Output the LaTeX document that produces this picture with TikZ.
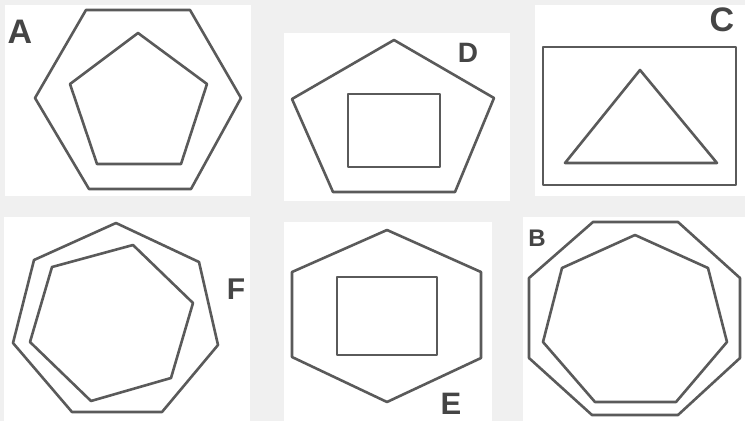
\documentclass[tikz,border=0pt]{standalone}
\usepackage{fontspec}
\setmainfont{Liberation Sans}
\usepackage{xcolor}
\usepackage{tikz}
\definecolor{fgBack}{HTML}{F0F0F0}
\definecolor{fgInk}{HTML}{5A5A5A}
\definecolor{fgText}{HTML}{454545}
\tikzset{
  fg diagram/.style={x=1pt, y=-1pt, line cap=round, line join=round},
  fg panel/.style={fill=white, draw=none},
  fg shape/.style={draw=fgInk, line width=2.6pt},
  fg label/.style={text=fgText, inner sep=0pt,
    font=\fontsize{#1}{#1}\selectfont\bfseries}
}
\begin{document}
\begin{tikzpicture}[fg diagram]
\fill[fgBack] (0,0) rectangle (745,421);
% panels
\fill[fg panel] (5,5) rectangle (251,196);
\fill[fg panel] (284,33) rectangle (510,201);
\fill[fg panel] (535,5) rectangle (745,196);
\fill[fg panel] (4,217) rectangle (250,421);
\fill[fg panel] (284,222) rectangle (492,421);
\fill[fg panel] (523,217) rectangle (745,421);
% A
\draw[fg shape] (86,10) -- (190,10) -- (241,98) -- (191,189) -- (89,189) -- (35,98) -- cycle;
\draw[fg shape] (138,33) -- (207,84) -- (181,164) -- (97,164) -- (70,84) -- cycle;
\node[fg label=34] (labA) at (20,32) {A};
% D
\draw[fg shape] (394,40) -- (494,98) -- (455,192) -- (333,192) -- (292,99) -- cycle;
\draw[fg shape] (348,94) rectangle (440,167);
\node[fg label=28] (labD) at (468,53) {D};
% C
\draw[fg shape] (543,47) rectangle (736,185);
\draw[fg shape] (640,70) -- (717,163) -- (565,163) -- cycle;
\node[fg label=34] (labC) at (722,20) {C};
% F
\draw[fg shape] (116,223) -- (199,262) -- (218,345) -- (162,412) -- (72,412) -- (13,343) -- (34,260) -- cycle;
\draw[fg shape] (133,245) -- (193,303) -- (171,378) -- (91,401) -- (30,342) -- (52,267) -- cycle;
\node[fg label=30] (labF) at (236,289) {F};
% E
\draw[fg shape] (387,230) -- (481,272) -- (481,358) -- (387,402) -- (292,357) -- (292,272) -- cycle;
\draw[fg shape] (337,277) rectangle (437,355);
\node[fg label=31] (labE) at (451,404) {E};
% B
\draw[fg shape] (593,222) -- (678,222) -- (740,278) -- (740,358) -- (678,415) -- (592,415) -- (529,358) -- (529,278) -- cycle;
\draw[fg shape] (635,235) -- (708,268) -- (727,342) -- (676,402) -- (595,402) -- (543,342) -- (562,268) -- cycle;
\node[fg label=24] (labB) at (537,238) {B};
\end{tikzpicture}
\end{document}
